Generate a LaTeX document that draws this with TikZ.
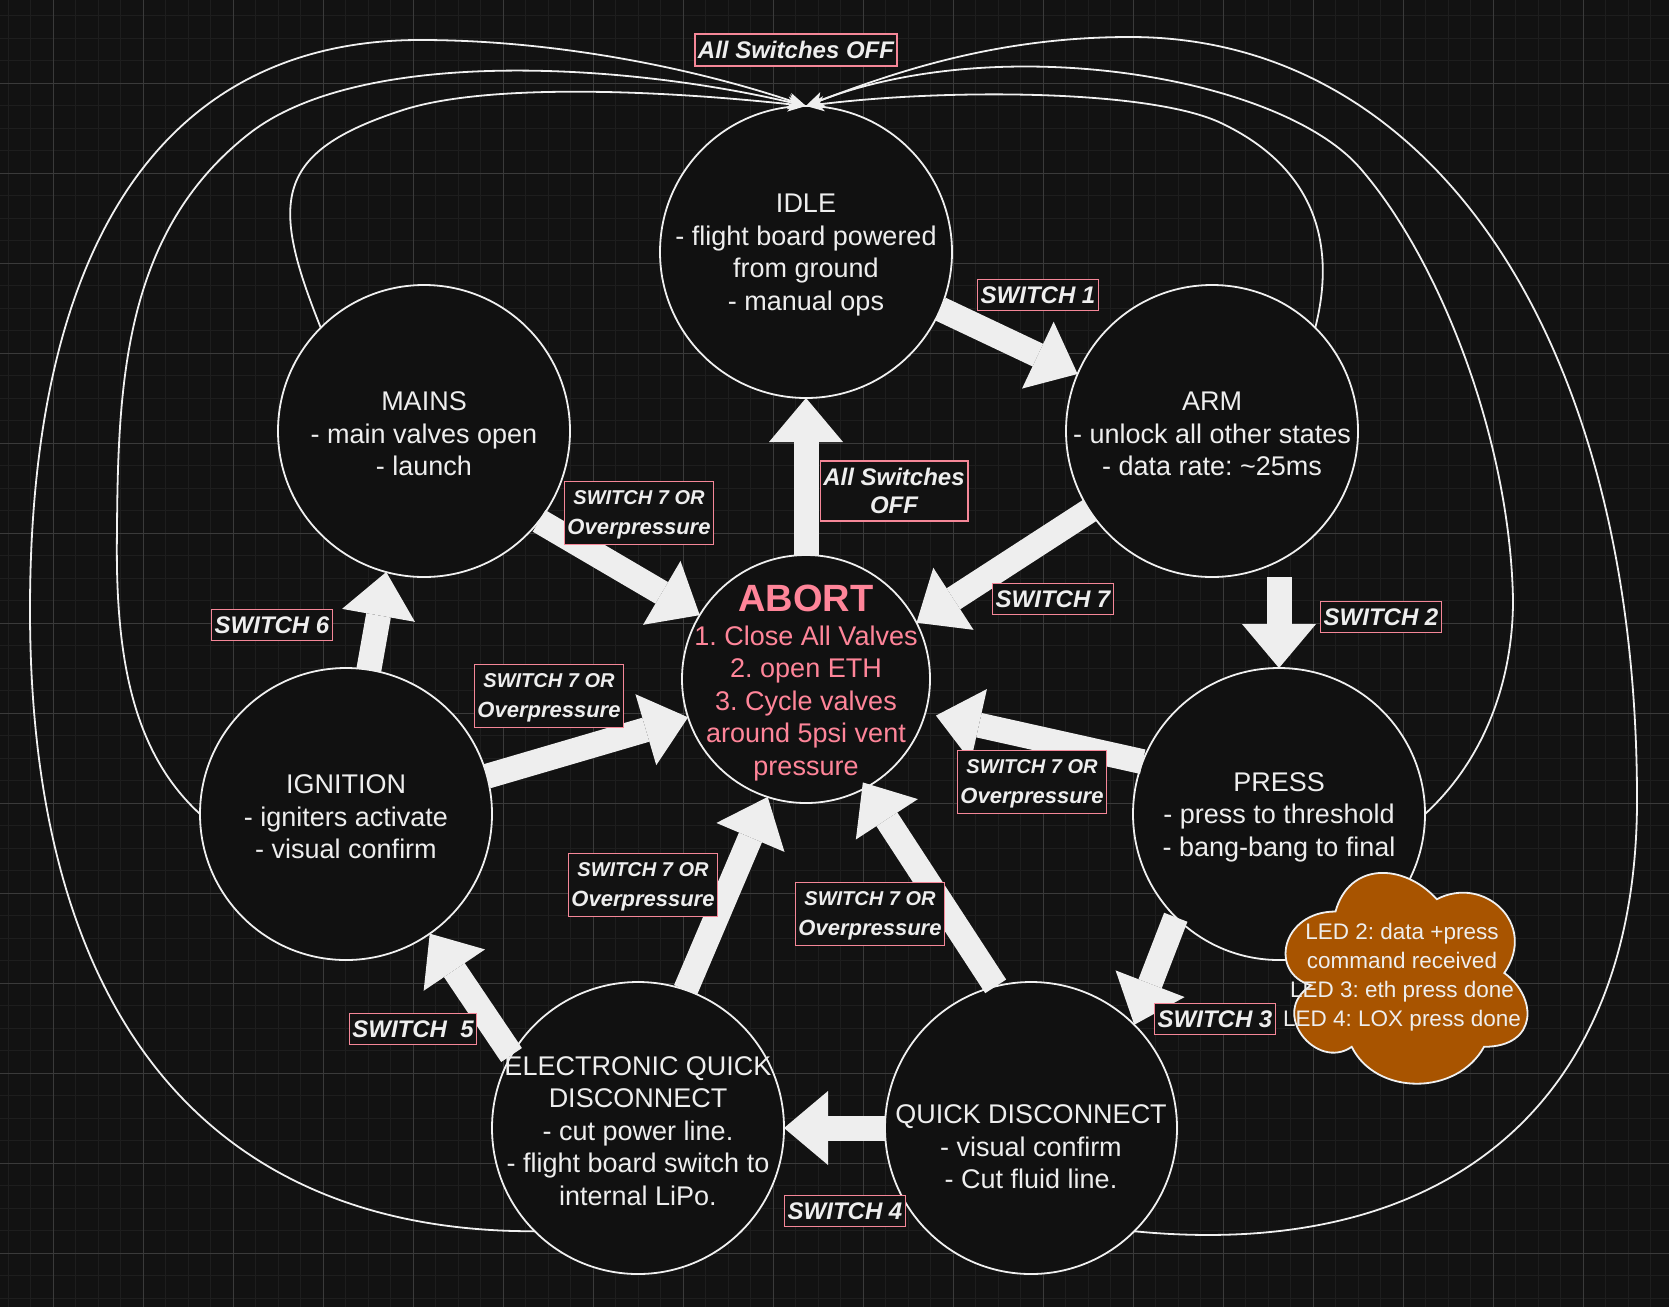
\documentclass[tikz,border=0pt]{standalone}
\usepackage{fontspec}
\setmainfont{Liberation Sans}
\usepackage{tikz}
\usetikzlibrary{arrows.meta}
\frenchspacing
\definecolor{bg}{RGB}{18,18,18}
\definecolor{gridminor}{RGB}{30,30,30}
\definecolor{gridmajor}{RGB}{58,58,58}
\definecolor{statefill}{RGB}{17,17,17}
\definecolor{edge}{RGB}{240,240,240}
\definecolor{arrowfill}{RGB}{238,238,238}
\definecolor{fg}{RGB}{238,238,238}
\definecolor{abortpink}{RGB}{255,133,153}
\definecolor{pinkline}{RGB}{245,135,152}
\definecolor{cloudfill}{RGB}{168,84,0}
\tikzset{>={Stealth[length=18pt,width=15pt,inset=5pt]}}
\tikzset{
  state/.style={circle, draw=edge, fill=statefill, line width=1.8pt, minimum size=292pt, inner sep=0pt, outer sep=0pt},
  stext/.style={align=center, text=fg, font=\fontsize{27}{32.5}\selectfont, yshift=-3pt},
  cloudtext/.style={align=center, text=fg, font=\fontsize{22.5}{29}\selectfont},
  bigarrow/.style={draw=arrowfill, line width=25pt, -{Triangle[length=44pt,width=74pt,line width=0pt]}},
  thinarrow/.style={draw=edge, line width=1.8pt, ->},
  lbl/.style={draw=pinkline, line width=1.6pt, fill=bg, text=fg, inner xsep=3pt, inner ysep=7pt, align=center, font=\fontsize{24}{28.8}\selectfont\bfseries\itshape},
  lbltwo/.style={lbl, inner ysep=5pt, font=\fontsize{22}{30}\selectfont\bfseries\itshape}
}
\newcommand{\swsevenor}{\rule{0pt}{18.5pt}{\fontsize{20}{24}\selectfont SWITCH 7 OR}\\Overpressure}

\begin{document}
\begin{tikzpicture}[x=1pt,y=-1pt]
  \useasboundingbox (0,0) rectangle (1669,1307);
  \fill[bg] (0,0) rectangle (1669,1307);
  \foreach \i in {0,...,74} \draw[gridminor, line width=1pt] ({8+22.5*\i},0) -- ++(0,1307);
  \foreach \i in {0,...,58} \draw[gridminor, line width=1pt] (0,{15.5+22.5*\i}) -- ++(1669,0);
  \foreach \i in {0,...,18} \draw[gridmajor, line width=1pt] ({53+90*\i},0) -- ++(0,1307);
  \foreach \i in {0,...,13} \draw[gridmajor, line width=1pt] (0,{83+90*\i}) -- ++(1669,0);

  \node[state] (idle) at (806,252) {};
  \node[state] (arm) at (1212,431) {};
  \node[state] (mains) at (424,431) {};
  \node[state, minimum size=248pt] (abort) at (806,679) {};
  \node[state] (ign) at (346,814) {};
  \node[state] (press) at (1279,814) {};
  \node[state] (eqd) at (638,1128) {};
  \node[state] (qd) at (1031,1128) {};

  \draw[thinarrow] (mains.135) .. controls (270,201) and (273,152) .. (403,110) .. controls (480,85) and (640,88) .. (idle.north);
  \draw[thinarrow] (ign.west) .. controls (130,750) and (115,650) .. (117,530) .. controls (118,380) and (125,230) .. (250,133) .. controls (360,48) and (620,62) .. (idle.north);
  \draw[thinarrow] (eqd.-135) .. controls (207,1232) and (30,1014) .. (30,610) .. controls (30,240) and (166,40) .. (420,40) .. controls (560,40) and (700,70) .. (idle.north);
  \draw[thinarrow] (arm.45) .. controls (1335,250) and (1320,170) .. (1221,123) .. controls (1152,90) and (950,88) .. (idle.north);
  \draw[thinarrow] (press.east) .. controls (1485,759) and (1513,680) .. (1513,600) .. controls (1510,440) and (1440,260) .. (1360,168) .. controls (1280,76) and (1000,30) .. (idle.north);
  \draw[thinarrow] (qd.-45) .. controls (1450,1262) and (1637,1100) .. (1637,800) .. controls (1637,342) and (1434,37) .. (1130,37) .. controls (1000,37) and (900,70) .. (idle.north);

  \draw[bigarrow] (idle.-23) -- (arm.157);
  \draw[bigarrow] (abort.north) -- (idle.south);
  \draw[bigarrow] (arm.213.5) -- (abort.27);
  \draw[bigarrow] (arm.south -| press.north) -- (press.north);
  \draw[bigarrow] (mains.-38) -- (abort.149);
  \draw[bigarrow] (ign.81) -- (mains.255);
  \draw[bigarrow] (ign.15) -- (abort.198);
  \draw[bigarrow, shorten >=11pt] (press.159) -- (abort.-16);
  \draw[bigarrow] (press.225) -- (qd.45);
  \draw[bigarrow] (eqd.71) -- (abort.252);
  \draw[bigarrow, shorten >=-6pt] (qd.104) -- (abort.-61);
  \draw[bigarrow] (eqd.150) -- (ign.-55);
  \draw[bigarrow] (qd.west) -- (eqd.east);

  \node[stext] (idle-t) at (idle) {IDLE\\- flight board powered\\from ground\\- manual ops};
  \node[stext] (arm-t) at (arm) {ARM\\- unlock all other states\\- data rate: \textasciitilde25ms};
  \node[stext] (mains-t) at (mains) {MAINS\\- main valves open\\- launch};
  \node[stext, text=abortpink, yshift=-1pt] (abort-t) at (abort) {{\fontsize{38}{40}\selectfont\bfseries ABORT}\\[1.5pt]1. Close All Valves\\2. open ETH\\3. Cycle valves\\around 5psi vent\\pressure};
  \node[stext] (ign-t) at (ign) {IGNITION\\- igniters activate\\- visual confirm};
  \node[stext] (press-t) at (press) {PRESS\\- press to threshold\\- bang-bang to final};
  \node[stext] (eqd-t) at (eqd) {ELECTRONIC QUICK\\DISCONNECT\\- cut power line.\\- flight board switch to\\internal LiPo.};
  \node[stext] (qd-t) at ([yshift=-16pt]qd) {QUICK DISCONNECT\\- visual confirm\\- Cut fluid line.};

  \filldraw[fill=cloudfill, draw=edge, line width=1.8pt] (1335.5,911.5) .. controls (1281.5,911.5) and (1268,973) .. (1311.2,985.3) .. controls (1268,1012.4) and (1316.6,1071.4) .. (1351.7,1046.8) .. controls (1376,1096) and (1457,1096) .. (1484,1046.8) .. controls (1538,1046.8) and (1538,997.6) .. (1504.3,973) .. controls (1538,923.8) and (1484,874.6) .. (1436.8,899.2) .. controls (1403,862.3) and (1349,862.3) .. (1335.5,911.5) -- cycle;
  \node[cloudtext] (led-t) at (1402,977) {LED 2: data +press\\command received\\LED 3: eth press done\\LED 4: LOX press done};

  \node[lbl] (off-top) at (796,50) {All Switches OFF};
  \node[lbl] (sw1) at (1038,295) {SWITCH 1};
  \node[lbl] (off-mid) at (894,491) {All Switches\\OFF};
  \node[lbltwo] (ov-mains) at (639,513) {\swsevenor};
  \node[lbl] (sw7) at (1053,599) {SWITCH 7};
  \node[lbl] (sw2) at (1381,617) {SWITCH 2};
  \node[lbl] (sw6) at (272,625) {SWITCH 6};
  \node[lbltwo] (ov-ign) at (549,696) {\swsevenor};
  \node[lbltwo] (ov-press) at (1032,782) {\swsevenor};
  \node[lbltwo] (ov-eqd) at (643,885) {\swsevenor};
  \node[lbltwo] (ov-qd) at (870,914) {\swsevenor};
  \node[lbl] (sw3) at (1215,1019) {SWITCH 3};
  \node[lbl] (sw5) at (413,1029) {SWITCH\ \ 5};
  \node[lbl] (sw4) at (845,1211) {SWITCH 4};
\end{tikzpicture}
\end{document}
